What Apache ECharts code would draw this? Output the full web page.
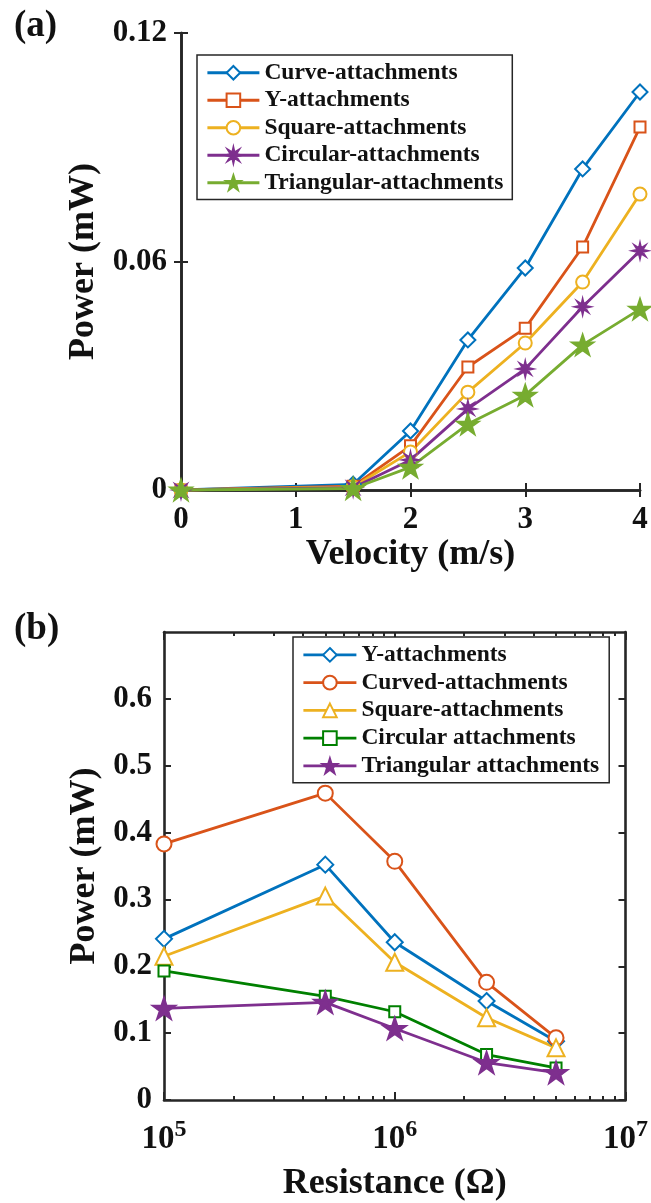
<!DOCTYPE html>
<html>
<head>
<meta charset="utf-8">
<title>Power output of attachment geometries</title>
<script src="https://cdn.jsdelivr.net/npm/echarts@6/dist/echarts.min.js"></script>
<style>
  html, body { margin: 0; padding: 0; background: #ffffff; }
  #chart { width: 651px; height: 1203px; }
</style>
</head>
<body>
<div id="chart"></div>
<script>
// ---- Panel (a): power vs flow velocity ----
const velocity = [0, 1.5, 2, 2.5, 3, 3.5, 4];
const curveA      = [0, 0.0015, 0.0155, 0.0394, 0.0583, 0.0843, 0.1045];
const yShapeA     = [0, 0.0010, 0.0116, 0.0323, 0.0425, 0.0638, 0.0953];
const squareA     = [0, 0.0008, 0.0100, 0.0257, 0.0386, 0.0546, 0.0777];
const circularA   = [0, 0.0006, 0.0079, 0.0213, 0.0318, 0.0481, 0.0628];
const triangularA = [0, 0.0004, 0.0060, 0.0173, 0.0249, 0.0381, 0.0475];
const velocityTicks = [0, 1, 2, 3, 4];
const powerTicksA = [0, 0.06, 0.12];

// ---- Panel (b): power vs load resistance ----
const resistance = [1e5, 5e5, 1e6, 2.5e6, 5e6];
const yShapeB     = [0.241, 0.352, 0.236, 0.148, 0.088];
const curvedB     = [0.383, 0.459, 0.357, 0.176, 0.093];
const squareB     = [0.215, 0.305, 0.206, 0.123, 0.078];
const circularB   = [0.193, 0.155, 0.132, 0.068, 0.048];
const triangularB = [0.137, 0.146, 0.107, 0.056, 0.041];
const resistanceTicks = [1e5, 1e6, 1e7];
const powerTicksB = [0, 0.1, 0.2, 0.3, 0.4, 0.5, 0.6];

const namesA = ['Curve-attachments', 'Y-attachments', 'Square-attachments',
                'Circular-attachments', 'Triangular-attachments'];
const namesB = ['Y-attachments', 'Curved-attachments', 'Square-attachments',
                'Circular attachments', 'Triangular attachments'];

const C = {
  blue: '#0072BD', orange: '#D95319', yellow: '#EDB120',
  purple: '#7E2F8E', green: '#77AC30', darkGreen: '#008000'
};
const FONT = '"Liberation Serif", "Times New Roman", serif';
const INK = '#111111';
const AXIS = '#262626';

// star-shaped marker outline (pentagram / asterisk-like burst)
function starPath(points, inner) {
  const cmds = [];
  for (let i = 0; i < points * 2; i++) {
    const r = i % 2 ? inner : 1;
    const a = -Math.PI / 2 + i * Math.PI / points;
    cmds.push((i ? 'L' : 'M') + (100 + 100 * r * Math.cos(a)).toFixed(2) + ' ' +
              (100 + 100 * r * Math.sin(a)).toFixed(2));
  }
  return 'path://' + cmds.join(' ') + ' Z';
}
const PENTAGRAM = starPath(5, 0.382);
const ASTERISK = starPath(8, 0.38);

// series names carry a panel prefix so the two legends stay independent
const tag = (panel, name) => panel + '|' + name;
const untag = s => s.split('|')[1];

function lineSeries(panel, name, xs, ys, color, symbol, size, axisIdx) {
  return {
    type: 'line',
    name: tag(panel, name),
    xAxisIndex: axisIdx.x,
    yAxisIndex: axisIdx.y,
    data: xs.map((x, i) => [x, ys[i]]),
    symbol: symbol,
    symbolSize: size,
    symbolKeepAspect: true,
    showSymbol: true,
    showAllSymbol: true,
    clip: false,
    lineStyle: { color: color, width: 2.8 },
    itemStyle: { color: color, borderColor: color, borderWidth: 2.4 },
    emphasis: { disabled: true },
    animation: false
  };
}

function minorDecades() {
  const out = [];
  for (let e = 5; e < 7; e++) {
    for (let k = 2; k <= 9; k++) out.push(k * Math.pow(10, e));
  }
  return out;
}

const tickLabel = { fontFamily: FONT, fontWeight: 'bold', fontSize: 31, color: INK };
const nameStyle = { fontFamily: FONT, fontWeight: 'bold', fontSize: 36, color: INK };
const axisLine = { show: true, lineStyle: { color: AXIS, width: 2.6 } };
const tickStyle = { color: AXIS, width: 2 };
const legendText = { fontFamily: FONT, fontWeight: 'bold', fontSize: 23.5, color: INK };

const chart = echarts.init(document.getElementById('chart'), null, { renderer: 'canvas' });

const option = {
  backgroundColor: '#ffffff',
  animation: false,
  grid: [
    { left: 181, top: 33, right: 11, bottom: 713, containLabel: false },
    { left: 164, top: 632, right: 24, bottom: 103, containLabel: false }
  ],
  graphic: [
    { type: 'text', left: 14, top: 8,
      style: { text: '(a)', fontFamily: FONT, fontWeight: 'bold', fontSize: 37, fill: INK } },
    { type: 'text', left: 14, top: 611,
      style: { text: '(b)', fontFamily: FONT, fontWeight: 'bold', fontSize: 37, fill: INK } }
  ],
  xAxis: [
    // (a) bottom
    { type: 'value', gridIndex: 0, position: 'bottom', min: 0, max: 4, interval: 1,
      name: 'Velocity (m/s)', nameLocation: 'middle', nameGap: 47, nameTextStyle: nameStyle,
      axisLine: axisLine, splitLine: { show: false },
      axisTick: { inside: true, length: 7, lineStyle: tickStyle, customValues: velocityTicks },
      axisLabel: Object.assign({ margin: 14, customValues: velocityTicks }, tickLabel) },
    // (a) top mirror
    { type: 'value', gridIndex: 0, position: 'top', min: 0, max: 4, interval: 1,
      axisLine: axisLine, splitLine: { show: false },
      axisTick: { inside: true, length: 7, lineStyle: tickStyle, customValues: velocityTicks },
      axisLabel: { show: false } },
    // (b) bottom, decades
    { type: 'log', logBase: 10, gridIndex: 1, position: 'bottom', min: 1e5, max: 1e7,
      name: 'Resistance (Ω)', nameLocation: 'middle', nameGap: 66, nameTextStyle: nameStyle,
      axisLine: axisLine, splitLine: { show: false },
      axisTick: { inside: true, length: 8, lineStyle: tickStyle, customValues: resistanceTicks },
      axisLabel: {
        margin: 18, customValues: resistanceTicks,
        formatter: v => '{b|10}{s|' + Math.round(Math.log10(v)) + '}',
        rich: {
          b: { fontFamily: FONT, fontWeight: 'bold', fontSize: 33, color: INK },
          s: { fontFamily: FONT, fontWeight: 'bold', fontSize: 24, color: INK, padding: [0, 0, 18, 0] }
        }
      } },
    // (b) bottom, minor ticks
    { type: 'log', logBase: 10, gridIndex: 1, position: 'bottom', min: 1e5, max: 1e7,
      axisLine: { show: false }, splitLine: { show: false },
      axisTick: { inside: true, length: 4, lineStyle: tickStyle, customValues: minorDecades() },
      axisLabel: { show: false } },
    // (b) top, decades
    { type: 'log', logBase: 10, gridIndex: 1, position: 'top', min: 1e5, max: 1e7,
      axisLine: axisLine, splitLine: { show: false },
      axisTick: { inside: true, length: 8, lineStyle: tickStyle, customValues: resistanceTicks },
      axisLabel: { show: false } },
    // (b) top, minor ticks
    { type: 'log', logBase: 10, gridIndex: 1, position: 'top', min: 1e5, max: 1e7,
      axisLine: { show: false }, splitLine: { show: false },
      axisTick: { inside: true, length: 4, lineStyle: tickStyle, customValues: minorDecades() },
      axisLabel: { show: false } }
  ],
  yAxis: [
    // (a) left
    { type: 'value', gridIndex: 0, position: 'left', min: 0, max: 0.12, interval: 0.06,
      name: 'Power (mW)', nameLocation: 'middle', nameGap: 76, nameTextStyle: nameStyle,
      axisLine: axisLine, splitLine: { show: false },
      axisTick: { inside: true, length: 7, lineStyle: tickStyle, customValues: powerTicksA },
      axisLabel: Object.assign({ margin: 14, customValues: powerTicksA,
        formatter: v => v === 0 ? '0' : v.toFixed(2) }, tickLabel) },
    // (a) right mirror
    { type: 'value', gridIndex: 0, position: 'right', min: 0, max: 0.12, interval: 0.06,
      axisLine: axisLine, splitLine: { show: false },
      axisTick: { inside: true, length: 7, lineStyle: tickStyle, customValues: powerTicksA },
      axisLabel: { show: false } },
    // (b) left
    { type: 'value', gridIndex: 1, position: 'left', min: 0, max: 0.7, interval: 0.1,
      name: 'Power (mW)', nameLocation: 'middle', nameGap: 53, nameTextStyle: nameStyle,
      axisLine: axisLine, splitLine: { show: false },
      axisTick: { inside: true, length: 7, lineStyle: tickStyle, customValues: powerTicksB },
      axisLabel: Object.assign({ margin: 12, customValues: powerTicksB,
        formatter: v => v === 0 ? '0' : v.toFixed(1) }, tickLabel) },
    // (b) right mirror
    { type: 'value', gridIndex: 1, position: 'right', min: 0, max: 0.7, interval: 0.1,
      axisLine: axisLine, splitLine: { show: false },
      axisTick: { inside: true, length: 7, lineStyle: tickStyle, customValues: powerTicksB },
      axisLabel: { show: false } }
  ],
  legend: [
    { left: 197, top: 55, orient: 'vertical',
      data: namesA.map(n => tag('a', n)),
      formatter: untag,
      itemWidth: 52, itemHeight: 17, itemGap: 0,
      padding: [4, 9, 3, 9],
      lineStyle: { width: 2.8 },
      itemStyle: { borderWidth: 2.4 },
      borderColor: AXIS, borderWidth: 1.5, backgroundColor: '#ffffff',
      selectedMode: false,
      textStyle: Object.assign({ lineHeight: 27.5 }, legendText) },
    { left: 293, top: 637, orient: 'vertical',
      data: namesB.map(n => tag('b', n)),
      formatter: untag,
      itemWidth: 53, itemHeight: 17, itemGap: 0,
      padding: [4, 10, 3, 9],
      lineStyle: { width: 2.8 },
      itemStyle: { borderWidth: 2.4 },
      borderColor: AXIS, borderWidth: 1.5, backgroundColor: '#ffffff',
      selectedMode: false,
      textStyle: Object.assign({ lineHeight: 27.75 }, legendText) }
  ],
  series: [
    lineSeries('a', namesA[0], velocity, curveA,      C.blue,   'emptyDiamond', 15, { x: 0, y: 0 }),
    lineSeries('a', namesA[1], velocity, yShapeA,     C.orange, 'emptyRect',    11, { x: 0, y: 0 }),
    lineSeries('a', namesA[2], velocity, squareA,     C.yellow, 'emptyCircle',  13, { x: 0, y: 0 }),
    lineSeries('a', namesA[3], velocity, circularA,   C.purple, ASTERISK,       13, { x: 0, y: 0 }),
    lineSeries('a', namesA[4], velocity, triangularA, C.green,  PENTAGRAM,      20, { x: 0, y: 0 }),

    lineSeries('b', namesB[0], resistance, yShapeB,     C.blue,      'emptyDiamond',  16, { x: 2, y: 2 }),
    lineSeries('b', namesB[1], resistance, curvedB,     C.orange,    'emptyCircle',   15, { x: 2, y: 2 }),
    lineSeries('b', namesB[2], resistance, squareB,     C.yellow,    'emptyTriangle', 17, { x: 2, y: 2 }),
    lineSeries('b', namesB[3], resistance, circularB,   C.darkGreen, 'emptyRect',     11, { x: 2, y: 2 }),
    lineSeries('b', namesB[4], resistance, triangularB, C.purple,    PENTAGRAM,       21, { x: 2, y: 2 })
  ]
};

chart.setOption(option);
</script>
</body>
</html>
